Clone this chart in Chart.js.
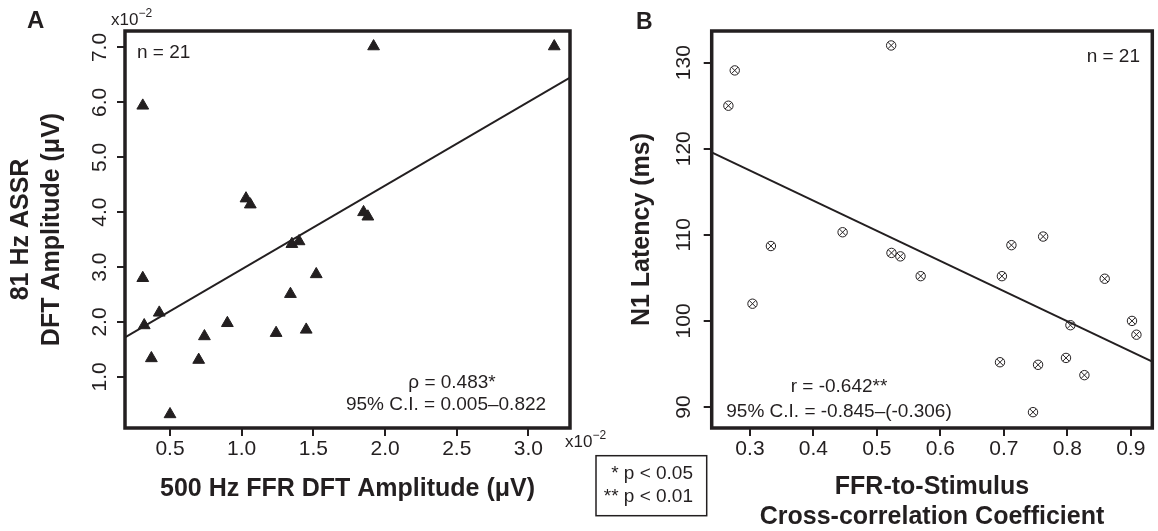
<!DOCTYPE html>
<html><head><meta charset="utf-8">
<script src="https://cdn.jsdelivr.net/npm/chart.js@4.4.1/dist/chart.umd.min.js"></script>
<style>
html,body{margin:0;padding:0;background:#fff;width:1158px;height:531px;overflow:hidden;position:relative}
canvas{position:absolute;top:0}
#cA{left:0}
#cB{left:590px}
</style></head><body>
<canvas id="cA" width="720" height="531"></canvas>
<canvas id="cB" width="568" height="531"></canvas>
<script>
// ---- Panel A data (x10^-2 µV) ----
const ffrAmp  = [0.31, 1.92, 3.18, 1.03, 1.06, 1.85, 1.88, 1.35, 1.40, 1.52, 1.34, 1.45, 0.31, 0.32, 0.425, 0.37, 0.50, 0.70, 0.74, 0.90, 1.24];
const assrAmp = [5.94, 7.02, 7.02, 4.25, 4.14, 4.00, 3.92, 3.42, 3.47, 2.87, 2.51, 1.86, 2.80, 1.94, 2.17, 1.34, 0.32, 1.31, 1.74, 1.98, 1.80];
const ticksAx = [0.5, 1.0, 1.5, 2.0, 2.5, 3.0];
const ticksAy = [1, 2, 3, 4, 5, 6, 7];
const rangeA = {xmin: 0.186, xmax: 3.29, ymin: 0.07, ymax: 7.30};
const fitA = {intercept: 1.436, slope: 1.524};

// ---- Panel B data ----
const xcorrCoef = [0.266, 0.276, 0.5225, 0.446, 0.333, 0.304, 0.523, 0.537, 0.569, 0.697, 0.859, 0.712, 0.762, 0.805, 0.902, 0.909, 0.694, 0.754, 0.798, 0.827, 0.746];
const n1Latency = [125.0, 129.1, 132.0, 110.3, 108.7, 102.0, 107.9, 107.5, 105.2, 105.2, 104.9, 108.8, 109.8, 99.5, 100.0, 98.4, 95.2, 94.9, 95.7, 93.7, 89.4];
const ticksBx = [0.3, 0.4, 0.5, 0.6, 0.7, 0.8, 0.9];
const ticksBy = [90, 100, 110, 120, 130];
const rangeB = {xmin: 0.2397, xmax: 0.934, ymin: 87.56, ymax: 133.68};
const fitB = {intercept: 127.97, slope: -35.0};

const INK = '#231f20';
const FF = "'Liberation Sans', Arial, Helvetica, sans-serif";

function fitLine(fit, r) {
  return [{x: r.xmin, y: fit.intercept + fit.slope * r.xmin},
          {x: r.xmax, y: fit.intercept + fit.slope * r.xmax}];
}

function txt(ctx, s, x, y, size, align, bold) {
  ctx.font = (bold ? 'bold ' : '') + size + 'px ' + FF;
  ctx.textAlign = align; ctx.textBaseline = 'middle';
  ctx.fillStyle = INK;
  ctx.fillText(s, x, y);
  return ctx.measureText(s).width;
}
function sci(ctx, x, y) {
  const w = txt(ctx, 'x10', x, y, 17, 'left');
  txt(ctx, '\u22122', x + w, y - 6, 12, 'left');
}

function framePlugin(extras) {
  return {
    id: 'frame',
    afterDraw(chart) {
      const {ctx, chartArea: a} = chart;
      ctx.save();
      ctx.strokeStyle = INK; ctx.lineWidth = 3.5;
      ctx.strokeRect(a.left, a.top, a.right - a.left, a.bottom - a.top);
      extras(ctx, a);
      ctx.restore();
    }
  };
}

function axis(opts) {
  return {
    type: 'linear', min: opts.min, max: opts.max,
    afterBuildTicks: s => { s.ticks = opts.ticks.map(v => ({value: v})); },
    afterFit: s => { if (opts.w !== undefined) s.width = opts.w; if (opts.h !== undefined) s.height = opts.h; },
    border: {display: false},
    grid: {drawOnChartArea: false, drawTicks: true, tickLength: 8, lineWidth: 2, color: INK},
    ticks: Object.assign({color: INK, font: {family: FF, size: 21, lineHeight: 1}, callback: opts.fmt}, opts.tick || {}),
    title: {display: true, text: opts.title, color: INK,
            font: {family: FF, size: 25, weight: 'bold', lineHeight: opts.lh || 1.24}, padding: opts.tpad}
  };
}

// ---- Chart A ----
new Chart(document.getElementById('cA'), {
  type: 'scatter',
  data: {datasets: [
    {data: fitLine(fitA, rangeA), showLine: true, pointRadius: 0, borderColor: INK, borderWidth: 2},
    {data: ffrAmp.map((x, i) => ({x, y: assrAmp[i]})), pointStyle: 'triangle', pointRadius: 6.8,
     backgroundColor: INK, borderColor: INK, borderWidth: 1}
  ]},
  options: {
    responsive: false, animation: false,
    layout: {padding: {top: 31, left: 0, right: 150, bottom: 0}},
    plugins: {legend: {display: false}, tooltip: {enabled: false}},
    scales: {
      x: axis({min: rangeA.xmin, max: rangeA.xmax, ticks: ticksAx, h: 103, fmt: v => v.toFixed(1),
               tick: {padding: 3, maxRotation: 0},
               title: '500 Hz FFR DFT Amplitude (\u03bcV)', tpad: {top: 0, bottom: 26.5}}),
      y: axis({min: rangeA.ymin, max: rangeA.ymax, ticks: ticksAy, w: 125, fmt: v => v.toFixed(1),
               tick: {padding: 2, minRotation: 90, maxRotation: 90, crossAlign: 'center'},
               title: ['81 Hz ASSR', 'DFT Amplitude (\u03bcV)'], tpad: {top: 5.5, bottom: 0}})
    }
  },
  plugins: [framePlugin((ctx, a) => {
    txt(ctx, 'A', 27, 21, 24, 'left', true);
    sci(ctx, 111, 20);
    txt(ctx, 'n = 21', 137, 52.5, 19, 'left');
    txt(ctx, '\u03c1 = 0.483*', 452, 383, 19, 'center');
    txt(ctx, '95% C.I. = 0.005\u20130.822', 446, 405, 19, 'center');
    sci(ctx, 565, 442);
    ctx.lineWidth = 1.5; ctx.strokeStyle = INK;
    ctx.strokeRect(596, 455.7, 110.7, 60);
    txt(ctx, '* p < 0.05', 693, 473.3, 19, 'right');
    txt(ctx, '** p < 0.01', 693, 496.7, 19, 'right');
  })]
});

// ---- Chart B ----
const ptsB = xcorrCoef.map((x, i) => ({x, y: n1Latency[i]}));
new Chart(document.getElementById('cB'), {
  type: 'scatter',
  data: {datasets: [
    {data: fitLine(fitB, rangeB), showLine: true, pointRadius: 0, borderColor: INK, borderWidth: 2},
    {data: ptsB, pointStyle: 'circle', pointRadius: 4.7, backgroundColor: 'rgba(255,255,255,0)', borderColor: INK, borderWidth: 1},
    {data: ptsB, pointStyle: 'crossRot', pointRadius: 4.7, borderColor: INK, borderWidth: 1}
  ]},
  options: {
    responsive: false, animation: false,
    layout: {padding: {top: 31, left: 0, right: 1.7, bottom: 0}},
    plugins: {legend: {display: false}, tooltip: {enabled: false}},
    scales: {
      x: axis({min: rangeB.xmin, max: rangeB.xmax, ticks: ticksBx, h: 103, fmt: v => v.toFixed(1),
               tick: {padding: 3, maxRotation: 0}, lh: 1.2,
               title: ['FFR-to-Stimulus', 'Cross-correlation Coefficient'], tpad: {top: 0, bottom: -1}}),
      y: axis({min: rangeB.ymin, max: rangeB.ymax, ticks: ticksBy, w: 121.7, fmt: v => String(v),
               tick: {padding: 1.5, minRotation: 90, maxRotation: 90, crossAlign: 'center'},
               title: 'N1 Latency (ms)', tpad: {top: 36.2, bottom: 0}})
    }
  },
  plugins: [framePlugin((ctx, a) => {
    txt(ctx, 'B', 46, 22.5, 23, 'left', true);
    txt(ctx, 'n = 21', 550, 56.7, 19, 'right');
    txt(ctx, 'r = -0.642**', 249, 386.7, 19, 'center');
    txt(ctx, '95% C.I. = -0.845\u2013(-0.306)', 249, 411.7, 19, 'center');
  })]
});
</script>
</body></html>
